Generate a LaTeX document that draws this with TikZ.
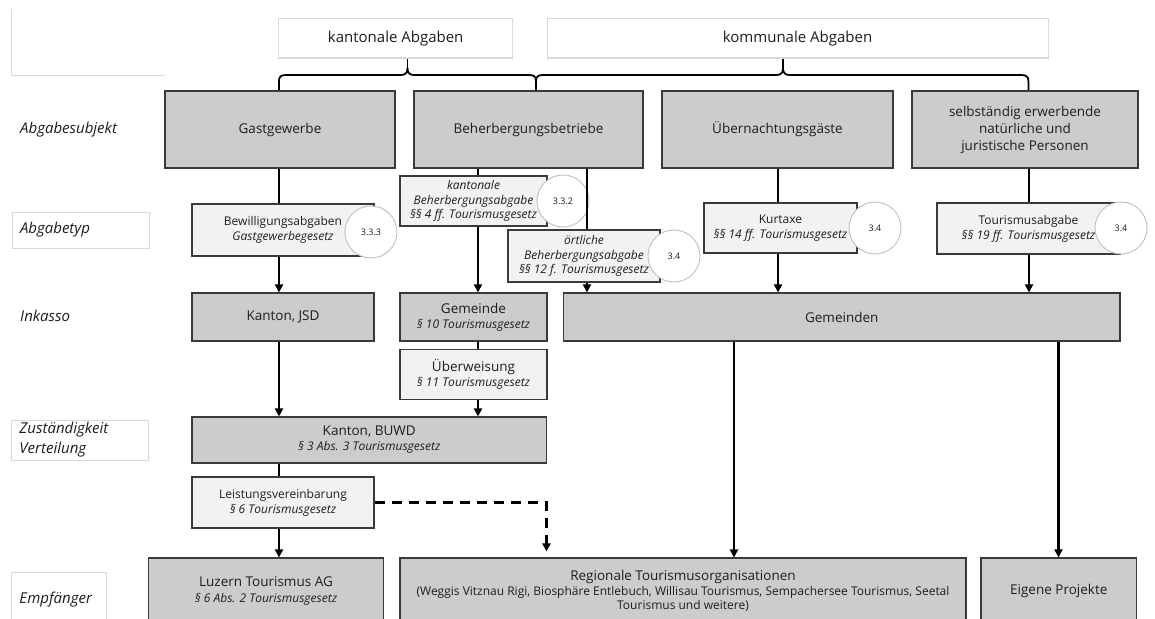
\documentclass[tikz,border=0pt]{standalone}
\usepackage{fontspec}
\setmainfont{Open Sans}
\usetikzlibrary{arrows.meta,calc}
\definecolor{darkf}{HTML}{CCCCCC}
\definecolor{lightf}{HTML}{F2F2F2}
\definecolor{bordc}{HTML}{3A3A3A}
\definecolor{hdrc}{HTML}{D9D9D9}
\definecolor{circc}{HTML}{C0C0C0}
\definecolor{txtc}{HTML}{1E1E1E}
\newcommand\fsHead{\fontsize{15}{18}\selectfont}
\newcommand\fsMain{\fontsize{13.5}{17}\selectfont}
\newcommand\fsSub{\fontsize{12}{15}\selectfont}
\newcommand\fsSubT{\fontsize{12}{14.5}\selectfont}
\newcommand\fsNum{\fontsize{9}{11}\selectfont}
\newcommand\fsLab{\fontsize{15}{20}\selectfont\itshape}
\tikzset{
  darkbox/.style={draw=bordc, fill=darkf, line width=1.1pt, inner sep=2pt, align=center, text=txtc, font=\fsMain},
  lightbox/.style={draw=bordc, fill=lightf, line width=1.1pt, inner sep=2pt, align=center, text=txtc, font=\fsSub},
  hdrbox/.style={draw=hdrc, fill=white, line width=1pt, inner sep=2pt, align=center, text=txtc, font=\fsHead},
  numcirc/.style={circle, draw=circc, fill=white, line width=0.9pt, minimum size=52pt, inner sep=0pt, text=txtc, font=\fsNum},
  lab/.style={inner sep=0pt, anchor=west, text=txtc, font=\fsLab, align=left},
  labbox/.style={draw=hdrc, line width=0.8pt, inner xsep=8pt, inner ysep=0pt, text=txtc, font=\fsLab, align=left},
  conn/.style={draw=black, line width=2.4pt},
  arr/.style={conn, -{Triangle[length=8pt,width=8pt]}},
  brace/.style={draw=black, line width=1.8pt, line join=round}
}
\begin{document}
\begin{tikzpicture}[x=1pt,y=-1pt]
\useasboundingbox (0,0) rectangle (1155,618);
\clip (0,0) rectangle (1155,618);
\fill[white] (0,0) rectangle (1155,618);

% column coordinates
\coordinate (cA) at (279,0);
\coordinate (cB) at (478,0);
\coordinate (cC) at (587,0);
\coordinate (cD) at (778,0);
\coordinate (cE) at (1029,0);
\coordinate (cF) at (734,0);
\coordinate (cG) at (1058.5,0);
\coordinate (cH) at (546.5,0);

% top-left empty frame
\draw[hdrc, line width=0.8pt] (11.5,9) -- (11.5,75) -- (165,75);

% left labels
\node[lab] (lsub) at (20,130) {Abgabesubjekt};
\node[labbox, minimum width=137pt, minimum height=36pt, text width=121pt] (ltyp) at (80.5,230) {Abgabetyp};
\node[lab] (link) at (20,316) {Inkasso};
\node[labbox, minimum width=137pt, minimum height=40pt, text width=121pt] (lzus) at (80,440) {Zuständigkeit\\Verteilung};
\node[labbox, minimum width=94.5pt, minimum height=56pt, text width=78.5pt] (lemp) at (58.75,600) {Empfänger};

% headers
\node[hdrbox, minimum width=234pt, minimum height=39pt] (hk) at (395.7,38.5) {kantonale Abgaben};
\node[hdrbox, minimum width=501pt, minimum height=39pt] (hc) at (797.5,38.5) {kommunale Abgaben};

% braces
\coordinate (tipk) at (407.5,68);
\coordinate (tipc) at (783,68);
\draw[brace] (279,91) -- (279,81) .. controls (279,76.5) and (281,75) .. (286,75) -- (400.5,75) .. controls (405.5,75) and (407.5,73) .. (tipk) .. controls (407.5,73) and (409.5,75) .. (414.5,75) -- (529,75) .. controls (534,75) and (536,76.5) .. (536,81) -- (536,91);
\draw[brace] (tipk) -- (hk.south -| tipk);
\draw[brace] (536,81) .. controls (536,76.5) and (538,75) .. (543,75) -- (776,75) .. controls (781,75) and (783,73) .. (tipc) .. controls (783,73) and (785,75) .. (790,75) -- (1021,75) .. controls (1026,75) and (1028.4,76.5) .. (1028.4,81) -- (1028.4,91);
\draw[brace] (tipc) -- (hc.south -| tipc);

% row 1
\node[darkbox, minimum width=230pt, minimum height=77pt] (gast) at (280,129.5) {Gastgewerbe};
\node[darkbox, minimum width=229pt, minimum height=77pt] (beh) at (528.5,129.5) {Beherbergungsbetriebe};
\node[darkbox, minimum width=231pt, minimum height=77pt] (uen) at (777.5,129.5) {Übernachtungsgäste};
\node[darkbox, minimum width=226pt, minimum height=77pt] (selb) at (1025,129.5) {selbständig erwerbende\\natürliche und\\juristische Personen};

% row 2
\node[lightbox, minimum width=182pt, minimum height=52pt] (bew) at (283,230) {Bewilligungsabgaben\\\textit{Gastgewerbegesetz}};
\node[lightbox, font=\fsSubT, minimum width=147pt, minimum height=50pt] (kbeh) at (473.5,201) {\textit{kantonale}\\\textit{Beherbergungsabgabe}\\\textit{§§ 4 ff. Tourismusgesetz}};
\node[lightbox, font=\fsSubT, minimum width=152pt, minimum height=52pt] (obeh) at (584,256) {\textit{örtliche}\\\textit{Beherbergungsabgabe}\\\textit{§§ 12 f. Tourismusgesetz}};
\node[lightbox, minimum width=153pt, minimum height=50pt] (kur) at (780.5,228) {Kurtaxe\\\textit{§§ 14 ff. Tourismusgesetz}};
\node[lightbox, minimum width=183pt, minimum height=51pt] (tour) at (1028.5,228.5) {Tourismusabgabe\\\textit{§§ 19 ff. Tourismusgesetz}};

% circles
\node[numcirc] (n1) at (371,232) {3.3.3};
\node[numcirc] (n2) at (563,201) {3.3.2};
\node[numcirc] (n3) at (674,256) {3.4};
\node[numcirc] (n4) at (875,228) {3.4};
\node[numcirc] (n5) at (1121,228) {3.4};

% row 3
\node[darkbox, minimum width=182pt, minimum height=48pt] (jsd) at (283,317) {Kanton, JSD};
\node[darkbox, minimum width=147pt, minimum height=48pt] (gem) at (473.5,317) {Gemeinde\\[-2pt]{\fsSub\itshape § 10 Tourismusgesetz}};
\node[darkbox, minimum width=556.5pt, minimum height=48pt] (gems) at (841.75,317) {Gemeinden};
\node[lightbox, font=\fsMain, minimum width=147pt, minimum height=50pt] (ueb) at (473.5,374.5) {Überweisung\\[-2pt]{\fsSub\itshape § 11 Tourismusgesetz}};

% row 4
\node[darkbox, minimum width=354.5pt, minimum height=46pt] (buwd) at (369.25,440) {Kanton, BUWD\\[-2pt]{\fsSub\itshape § 3 Abs. 3 Tourismusgesetz}};
\node[lightbox, minimum width=182pt, minimum height=51pt] (leist) at (283,502.5) {Leistungsvereinbarung\\\textit{§ 6 Tourismusgesetz}};

% bottom row
\node[darkbox, minimum width=235pt, minimum height=66pt] (luz) at (266,591) {Luzern Tourismus AG\\[-1pt]{\fsSub\itshape § 6 Abs. 2 Tourismusgesetz}};
\node[darkbox, minimum width=566pt, minimum height=66pt] (reg) at (683,591) {Regionale Tourismusorganisationen\\[-2pt]{\fsSub (Weggis Vitznau Rigi, Biosphäre Entlebuch, Willisau Tourismus, Sempachersee Tourismus, Seetal}\\[-3pt]{\fsSub Tourismus und weitere)}};
\node[darkbox, minimum width=155.5pt, minimum height=66pt] (eig) at (1058.75,591) {Eigene Projekte};

% connectors
\draw[conn] (gast.south -| cA) -- (bew.north -| cA);
\draw[arr] (bew.south -| cA) -- (jsd.north -| cA);
\draw[conn] (beh.south -| cB) -- (kbeh.north -| cB);
\draw[arr] (kbeh.south -| cB) -- (gem.north -| cB);
\draw[conn] (beh.south -| cC) -- (obeh.north -| cC);
\draw[arr] (obeh.south -| cC) -- (gems.north -| cC);
\draw[conn] (uen.south -| cD) -- (kur.north -| cD);
\draw[arr] (kur.south -| cD) -- (gems.north -| cD);
\draw[conn] (selb.south -| cE) -- (tour.north -| cE);
\draw[arr] (tour.south -| cE) -- (gems.north -| cE);
\draw[arr] (jsd.south -| cA) -- (buwd.north -| cA);
\draw[conn] (gem.south -| cB) -- (ueb.north -| cB);
\draw[arr] (ueb.south -| cB) -- (buwd.north -| cB);
\draw[conn] (buwd.south -| cA) -- (leist.north -| cA);
\draw[arr] (leist.south -| cA) -- (luz.north -| cA);
\draw[arr, dash pattern=on 10pt off 7pt, shorten >=6pt] (leist.east) -| (reg.north -| cH);
\draw[arr] (gems.south -| cF) -- (reg.north -| cF);
\draw[arr] (gems.south -| cG) -- (eig.north -| cG);
\end{tikzpicture}
\end{document}
